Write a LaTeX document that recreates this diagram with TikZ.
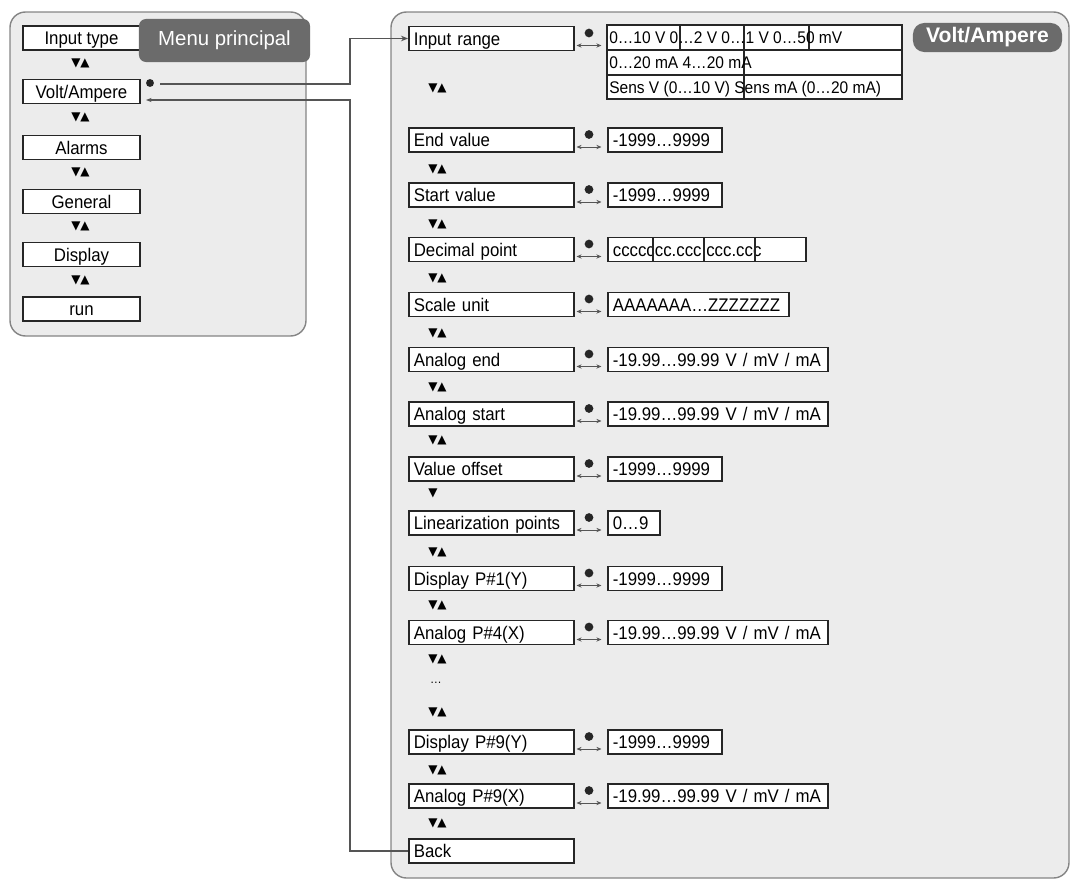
\documentclass[tikz,border=0pt]{standalone}
\usepackage{fontspec}
\setmainfont{Liberation Sans}[FakeStretch=0.92]
\newfontfamily\labelfont{Liberation Sans}
\newfontfamily\symbfont{DejaVu Sans}
\usetikzlibrary{arrows.meta}

\definecolor{panelgray}{HTML}{ECECEC}
\definecolor{panelline}{HTML}{858585}
\definecolor{tabgray}{HTML}{6B6B6B}
\definecolor{linkgray}{HTML}{555555}
\definecolor{boxline}{HTML}{262626}

\tikzset{
  panel/.style={fill=panelgray, draw=panelline, line width=1pt, rounded corners=11pt},
  tab/.style={fill=tabgray, rounded corners=5pt, text=white, inner sep=0pt},
  menubox/.style={draw=boxline, fill=white, line width=1.2pt, minimum width=2.925cm,
    minimum height=0.6cm, inner sep=0pt, text height=9.5pt, text depth=0pt,
    font=\fontsize{13}{15}\selectfont},
  itembox/.style={draw=boxline, fill=white, line width=1.2pt, anchor=west, text width=3.875cm,
    minimum height=0.6cm, inner xsep=0.125cm, inner ysep=0pt, align=left,
    text height=9.5pt, text depth=0pt, font=\fontsize{13}{15}\selectfont},
  valbox/.style={itembox, text width=#1},
  cell/.style={anchor=west, inner sep=0pt, text height=9pt, text depth=0pt,
    font=\fontsize{12}{14}\selectfont},
  updown/.style={anchor=west, inner sep=0pt, font=\symbfont\fontsize{8.5}{8.5}\selectfont},
  link/.style={draw=linkgray, line width=0.8pt},
  selicon/.pic={
    \fill[black!85] (0,-5.5) circle (3.1pt);
    \draw[linkgray, line width=0.7pt, {Stealth[length=3.6pt,width=3pt]}-{Stealth[length=3.6pt,width=3pt]}] (-12.5,7) -- (12.5,7);
  }
}

\begin{document}
\begin{tikzpicture}[x=0.025cm, y=-0.025cm]
  \useasboundingbox (0,0) rectangle (1074,881);

  % panels
  \draw[panel] (10,12) rectangle (306,336);
  \draw[panel] (391,12) rectangle (1069,878);

  % main menu
  \node[menubox] (intype) at (81.5,38) {Input type};
  \node[menubox] (voltamp) at (81.5,91.5) {Volt/Ampere};
  \node[menubox] (alarms) at (81.5,147.5) {Alarms};
  \node[menubox] (general) at (81.5,201.5) {General};
  \node[menubox] (display) at (81.5,254.5) {Display};
  \node[menubox] (run) at (81.5,309) {run};

  \node[updown] (ud1) at (71,63) {▼▲};
  \node[updown] (ud2) at (71,117) {▼▲};
  \node[updown] (ud3) at (71,172) {▼▲};
  \node[updown] (ud4) at (71,226) {▼▲};
  \node[updown] (ud5) at (71,280) {▼▲};

  \node[tab, minimum width=4.275cm, minimum height=1.075cm,
    font=\labelfont\fontsize{14.5}{16}\selectfont] (menutab) at (224.5,40.5) {Menu principal};
  \node[tab, minimum width=3.725cm, minimum height=0.725cm, rounded corners=8pt,
    font=\labelfont\bfseries\fontsize{15}{17}\selectfont] (vatab) at (987.5,37.5) {Volt/Ampere};

  % Volt/Ampere submenu
  \node[itembox] (inrange) at (408,38.5) {Input range};
  \node[itembox] (endval) at (408,140) {End value};
  \node[itembox] (startval) at (408,195) {Start value};
  \node[itembox] (decpoint) at (408,249.5) {Decimal point};
  \node[itembox] (scaleunit) at (408,304.5) {Scale unit};
  \node[itembox] (analogend) at (408,359.5) {Analog end};
  \node[itembox] (analogstart) at (408,414) {Analog start};
  \node[itembox] (valoffset) at (408,469) {Value offset};
  \node[itembox] (linpoints) at (408,523) {Linearization points};
  \node[itembox] (dispp1) at (408,578.5) {Display P\#1(Y)};
  \node[itembox] (analogp4) at (408,632.5) {Analog P\#4(X)};
  \node[itembox] (dispp9) at (408,742) {Display P\#9(Y)};
  \node[itembox] (analogp9) at (408,796) {Analog P\#9(X)};
  \node[itembox] (back) at (408,851) {Back};

  \node[updown] (ud6) at (428,88) {▼▲};
  \node[updown] (ud7) at (428,169) {▼▲};
  \node[updown] (ud8) at (428,224) {▼▲};
  \node[updown] (ud9) at (428,278) {▼▲};
  \node[updown] (ud10) at (428,333) {▼▲};
  \node[updown] (ud11) at (428,387) {▼▲};
  \node[updown] (ud12) at (428,440) {▼▲};
  \node[updown] (ud13) at (428,493) {▼};
  \node[updown] (ud14) at (428,552) {▼▲};
  \node[updown] (ud15) at (428,605) {▼▲};
  \node[updown] (ud16) at (428,659) {▼▲};
  \node[inner sep=0pt, font=\fontsize{9}{9}\selectfont] (more) at (436,683) {…};
  \node[updown] (ud17) at (428,712) {▼▲};
  \node[updown] (ud18) at (428,770) {▼▲};
  \node[updown] (ud19) at (428,823) {▼▲};

  % selection icons
  \pic at (589,38.5) {selicon};
  \pic at (589,140) {selicon};
  \pic at (589,195) {selicon};
  \pic at (589,249.5) {selicon};
  \pic at (589,304.5) {selicon};
  \pic at (589,359.5) {selicon};
  \pic at (589,414) {selicon};
  \pic at (589,469) {selicon};
  \pic at (589,523) {selicon};
  \pic at (589,578.5) {selicon};
  \pic at (589,632.5) {selicon};
  \pic at (589,742) {selicon};
  \pic at (589,796) {selicon};

  % values
  \draw[boxline, line width=1.2pt, fill=white] (607,25) rectangle (902,99);
  \draw[boxline, line width=0.9pt] (607,50) -- (902,50) (607,75) -- (902,75)
    (744,25) -- (744,99) (680,25) -- (680,50) (809,25) -- (809,50);
  \node[cell] (range1) at (609,37.5) {0…10 V 0…2 V 0…1 V 0…50 mV};
  \node[cell] (range2) at (609,62.5) {0…20 mA 4…20 mA};
  \node[cell] (range3) at (609,87) {Sens V (0…10 V) Sens mA (0…20 mA)};

  \node[valbox=2.6cm] (endvalv) at (607,140) {-1999…9999};
  \node[valbox=2.6cm] (startvalv) at (607,195) {-1999…9999};
  \node[valbox=4.7cm] (decpointv) at (607,249.5) {ccccccc.ccc.ccc.ccc};
  \draw[boxline, line width=0.9pt] (653,237.5) -- (653,261.5) (704,237.5) -- (704,261.5)
    (755,237.5) -- (755,261.5);
  \node[valbox=4.275cm] (scaleunitv) at (607,304.5) {AAAAAAA…ZZZZZZZ};
  \node[valbox=5.25cm] (analogendv) at (607,359.5) {-19.99…99.99 V / mV / mA};
  \node[valbox=5.25cm] (analogstartv) at (607,414) {-19.99…99.99 V / mV / mA};
  \node[valbox=2.6cm] (valoffsetv) at (607,469) {-1999…9999};
  \node[valbox=1.05cm] (linpointsv) at (607,523) {0…9};
  \node[valbox=2.6cm] (dispp1v) at (607,578.5) {-1999…9999};
  \node[valbox=5.25cm] (analogp4v) at (607,632.5) {-19.99…99.99 V / mV / mA};
  \node[valbox=2.6cm] (dispp9v) at (607,742) {-1999…9999};
  \node[valbox=5.25cm] (analogp9v) at (607,796) {-19.99…99.99 V / mV / mA};

  % links between the menus
  \coordinate (vadot) at (150,83);
  \coordinate (vaout) at (160,84);
  \coordinate (vain) at (146,100);
  \fill[black!85] (vadot) circle (2.8pt);
  \draw[link, -{Stealth[length=5pt,width=4pt]}] (vaout) -- (350,84) |- (inrange.west);
  \draw[link, -{Stealth[length=4pt,width=3pt]}] (back.west) -| (350,100) -- (vain);
\end{tikzpicture}
\end{document}
